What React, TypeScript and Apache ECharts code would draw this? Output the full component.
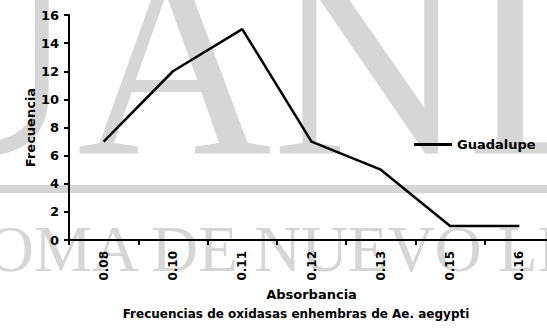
import React, { useEffect, useRef } from "react";
import * as echarts from "echarts";

const categories = ["0.08", "0.10", "0.11", "0.12", "0.13", "0.15", "0.16"];
const guadalupe = [7, 12, 15, 7, 5, 1, 1];
const yTicks = { min: 0, max: 16, interval: 2 };
const seriesName = "Guadalupe";
const xName = "Absorbancia";
const yName = "Frecuencia";
const caption = "Frecuencias de oxidasas enhembras de Ae. aegypti";
const watermarkTop = "UANL";
const watermarkBottom = "OMA DE NUEVO LEÓN";

const FONT = "DejaVu Sans";
const WM = "#d6d6d6";

export default function App() {
  const ref = useRef<HTMLDivElement>(null);
  useEffect(() => {
    if (!ref.current) return;
    const chart = echarts.init(ref.current, null, { renderer: "svg" });
    chart.setOption({
      animation: false,
      backgroundColor: "#fff",
      textStyle: { fontFamily: FONT, fontWeight: "bold", color: "#000" },
      graphic: [
        {
          type: "text",
          z: -10,
          silent: true,
          style: {
            text: watermarkTop,
            x: -118,
            y: 197,
            font: `270px "Liberation Serif"`,
            fill: WM,
            verticalAlign: "bottom",
          },
        },
        {
          type: "rect",
          z: -10,
          silent: true,
          shape: { x: 0, y: 185, width: 547, height: 8 },
          style: { fill: WM },
        },
        {
          type: "text",
          z: -10,
          silent: true,
          style: {
            text: watermarkBottom,
            x: -13,
            y: 281,
            font: `65px "Liberation Serif"`,
            fill: WM,
            verticalAlign: "bottom",
          },
        },
        {
          type: "text",
          style: {
            text: caption,
            x: 296,
            y: 314,
            align: "center",
            verticalAlign: "middle",
            font: `bold 12px "${FONT}"`,
            fill: "#000",
          },
        },
      ],
      grid: {
        left: 69,
        width: 485,
        top: 15,
        bottom: 90,
        containLabel: false,
        outerBoundsMode: "none",
      },
      legend: {
        left: 409,
        top: 133,
        icon: "rect",
        itemWidth: 38,
        itemHeight: 3,
        itemGap: 5,
        textStyle: { fontFamily: FONT, fontWeight: "bold", fontSize: 13, color: "#000" },
        data: [seriesName],
      },
      xAxis: {
        type: "category",
        data: categories,
        boundaryGap: true,
        name: xName,
        nameLocation: "middle",
        nameGap: 48,
        nameMoveOverlap: false,
        nameTextStyle: { fontFamily: FONT, fontWeight: "bold", fontSize: 13, color: "#000" },
        axisLine: { lineStyle: { color: "#000", width: 2 } },
        axisTick: { show: true, alignWithLabel: false, length: 5, lineStyle: { color: "#000", width: 2 } },
        axisLabel: {
          rotate: 90,
          margin: 11,
          fontFamily: FONT,
          fontWeight: "bold",
          fontSize: 12,
          color: "#000",
        },
        splitLine: { show: false },
      },
      yAxis: {
        type: "value",
        min: yTicks.min,
        max: yTicks.max,
        interval: yTicks.interval,
        name: yName,
        nameLocation: "middle",
        nameGap: 32,
        nameRotate: 90,
        nameMoveOverlap: false,
        nameTextStyle: { fontFamily: FONT, fontWeight: "bold", fontSize: 13, color: "#000" },
        axisLine: { show: true, lineStyle: { color: "#000", width: 2 } },
        axisTick: { show: true, length: 5, lineStyle: { color: "#000", width: 2 } },
        axisLabel: { margin: 10, fontFamily: FONT, fontWeight: "bold", fontSize: 13, color: "#000" },
        splitLine: { show: false },
      },
      series: [
        {
          name: seriesName,
          type: "line",
          data: guadalupe,
          symbol: "none",
          showSymbol: false,
          itemStyle: { color: "#000" },
          lineStyle: { color: "#000", width: 2.5 },
        },
      ],
    });
    return () => chart.dispose();
  }, []);
  return <div ref={ref} style={{ width: 547, height: 330, position: "absolute", left: 0, top: 0 }} />;
}
